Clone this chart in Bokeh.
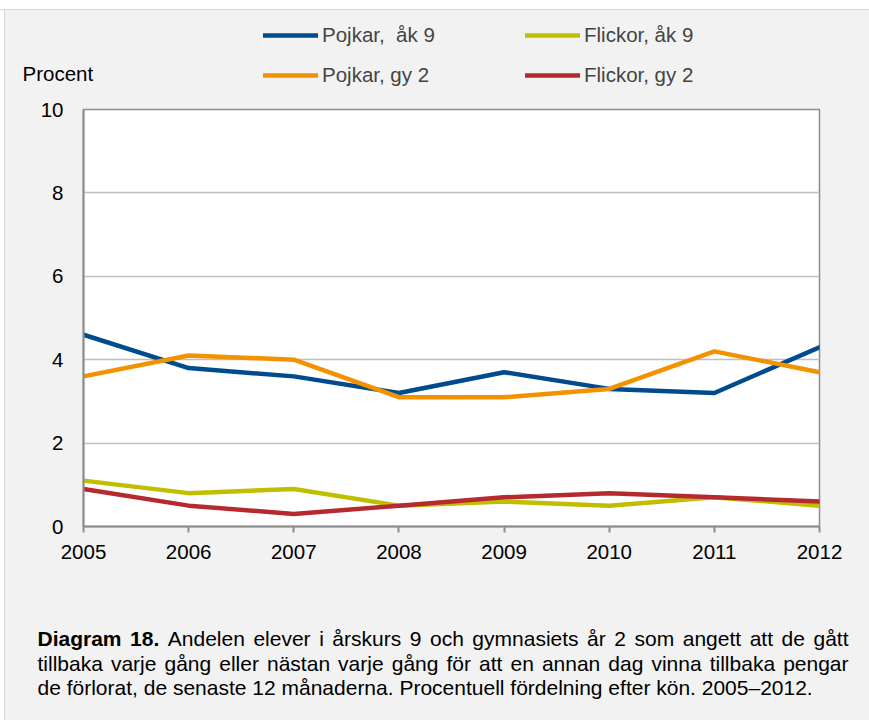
from bokeh.plotting import figure
from bokeh.models import (Range1d, FixedTicker, Label, Legend, LegendItem, Spacer)
from bokeh.layouts import column, row
from bokeh.embed import file_html
from bokeh.resources import INLINE

years = [2005, 2006, 2007, 2008, 2009, 2010, 2011, 2012]
pojkar_ak9 = [4.6, 3.8, 3.6, 3.2, 3.7, 3.3, 3.2, 4.3]
pojkar_gy2 = [3.6, 4.1, 4.0, 3.1, 3.1, 3.3, 4.2, 3.7]
flickor_ak9 = [1.1, 0.8, 0.9, 0.5, 0.6, 0.5, 0.7, 0.5]
flickor_gy2 = [0.9, 0.5, 0.3, 0.5, 0.7, 0.8, 0.7, 0.6]
y_ticks = [0, 2, 4, 6, 8, 10]

series_names = ["Pojkar,  åk 9", "Pojkar, gy 2", "Flickor, åk 9", "Flickor, gy 2"]
series_values = [pojkar_ak9, pojkar_gy2, flickor_ak9, flickor_gy2]
series_colors = ["#004B8D", "#F39200", "#BFBF00", "#B5292F"]

y_label = "Procent"
caption_bold = "Diagram 18."
caption_lines = [
    "Andelen elever i årskurs 9 och gymnasiets år 2 som angett att de gått",
    "tillbaka varje gång eller nästan varje gång för att en annan dag vinna tillbaka pengar",
    "de förlorat, de senaste 12 månaderna. Procentuell fördelning efter kön. 2005–2012.",
]

FONT = "Liberation Sans"
FS = "20.5px"
BG = "#F2F2F2"
W = 864

# ---------- header (legend + y label) ----------
HH = 89
header = figure(width=W, height=HH, output_backend="svg", toolbar_location=None,
                x_range=Range1d(0, 1), y_range=Range1d(0, 1),
                x_axis_type=None, y_axis_type=None,
                min_border_left=0, min_border_right=0, min_border_top=0, min_border_bottom=0)
header.border_fill_color = BG
header.background_fill_color = BG
header.outline_line_color = None

h_items = []
for name, vals, col in zip(series_names, series_values, series_colors):
    # same series, outside the header's ranges: only used as legend swatches
    r = header.line(years, vals, line_color=col, line_width=4.5, line_cap="round")
    h_items.append(LegendItem(label=name, renderers=[r]))

legend = Legend(items=h_items, ncols=2, location=(258, 12),
                label_text_font=FONT, label_text_font_size=FS,
                glyph_width=55, glyph_height=20, label_height=20,
                label_standoff=4, label_width=187, spacing=16,
                padding=0, margin=0, border_line_color=None,
                background_fill_alpha=0)
header.add_layout(legend, "center")
header.add_layout(Label(x=17, y=26, x_units="screen", y_units="screen", text=y_label,
                        text_font=FONT, text_font_size=FS, text_baseline="middle",
                        text_color="black"))

# ---------- main chart ----------
PH = 501
p = figure(width=W, height=PH, output_backend="svg", toolbar_location=None,
           x_range=Range1d(2005, 2012), y_range=Range1d(0, 10),
           min_border_left=78, min_border_right=50, min_border_top=10, min_border_bottom=74)
p.border_fill_color = BG
p.background_fill_color = "white"
p.outline_line_color = "#8C8C8C"
p.outline_line_width = 1.5

for vals, col in zip(series_values, series_colors):
    p.line(years, vals, line_color=col, line_width=4.5, line_cap="round", line_join="round")

p.xaxis.ticker = FixedTicker(ticks=years)
p.yaxis.ticker = FixedTicker(ticks=y_ticks)
for ax in (p.xaxis[0], p.yaxis[0]):
    ax.axis_line_color = "#8C8C8C"
    ax.axis_line_width = 2
    ax.major_tick_line_color = "#8C8C8C"
    ax.major_tick_line_width = 2
    ax.minor_tick_line_color = None
    ax.major_label_text_font = FONT
    ax.major_label_text_font_size = FS
    ax.major_label_text_color = "black"
p.xaxis.major_tick_out = 6
p.xaxis.major_tick_in = 0
p.xaxis.major_label_standoff = 12
p.yaxis.major_tick_out = 0
p.yaxis.major_tick_in = 0
p.yaxis.major_label_standoff = 20
p.xgrid.grid_line_color = None
p.ygrid.grid_line_color = "#BFBFBF"
p.ygrid.grid_line_width = 1.5

# ---------- footer (caption, justified) ----------
FH = 120
footer = figure(width=W, height=FH, output_backend="svg", toolbar_location=None,
                x_range=Range1d(0, 1), y_range=Range1d(0, 1),
                x_axis_type=None, y_axis_type=None,
                min_border_left=0, min_border_right=0, min_border_top=0, min_border_bottom=0)
footer.border_fill_color = BG
footer.background_fill_color = BG
footer.outline_line_color = None

CFS_PX = 21.0
CFS = "21px"
# Arial / Liberation Sans advance widths (1/1000 em), used only for justification
REG = {c: 556 for c in "abdeghnopqu0123456789åäö–"}
REG.update({"c": 500, "f": 278, "i": 222, "j": 222, "k": 500, "l": 222, "m": 833,
            "r": 333, "s": 500, "t": 278, "v": 500, "w": 722, "x": 500, "y": 500,
            "z": 500, " ": 278, ",": 278, ".": 278, "A": 667, "D": 722, "P": 667})
BOLD = {"D": 722, "i": 278, "a": 556, "g": 611, "r": 389, "m": 889, "1": 556,
        "8": 556, ".": 278, " ": 278}


def width(word, table):
    return sum(table.get(ch, 556) for ch in word) * CFS_PX / 1000.0


X0, X1 = 32, 843
baselines = [FH - 38, FH - 63, FH - 87]


def add_words(words, y, justify):
    total = sum(width(w, BOLD if b else REG) for w, b in words)
    nsp = len(words) - 1
    gap = (X1 - X0 - total) / nsp if justify else width(" ", REG)
    x = X0
    for w, b in words:
        footer.add_layout(Label(x=x, y=y, x_units="screen", y_units="screen", text=w,
                                text_font=FONT, text_font_size=CFS,
                                text_font_style="bold" if b else "normal",
                                text_baseline="alphabetic", text_color="black"))
        x += width(w, BOLD if b else REG) + gap


line1 = [(w, True) for w in caption_bold.split(" ")] + [(w, False) for w in caption_lines[0].split(" ")]
add_words(line1, baselines[0], True)
add_words([(w, False) for w in caption_lines[1].split(" ")], baselines[1], True)
footer.add_layout(Label(x=X0, y=baselines[2], x_units="screen", y_units="screen",
                        text=caption_lines[2], text_font=FONT, text_font_size=CFS,
                        text_baseline="alphabetic", text_color="black"))

SIDE = {"background-color": "white", "border-right": "1px solid #D9D9D9",
        "box-sizing": "border-box"}
top_sp = Spacer(width=W + 5, height=10, styles={"background-color": "white",
                                                 "border-bottom": "1px solid #D9D9D9",
                                                 "box-sizing": "border-box"})
layout = column(top_sp,
                row(Spacer(width=5, height=HH, styles=SIDE), header),
                row(Spacer(width=5, height=PH, styles=SIDE), p),
                row(Spacer(width=5, height=FH, styles=SIDE), footer),
                styles={"background-color": BG})

open("out.html", "w").write(file_html(layout, INLINE))
